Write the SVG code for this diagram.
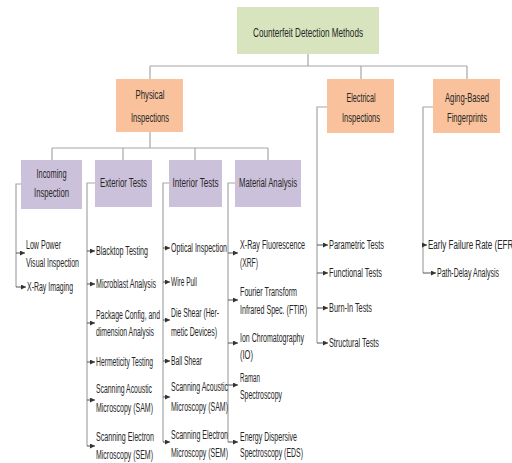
<svg xmlns="http://www.w3.org/2000/svg" width="512" height="463" viewBox="0 0 512 463">
<style>
text{font-family:"Liberation Sans Narrow","Liberation Sans",Arial,sans-serif;fill:#262626;font-size:12px}
.h{font-size:13px;text-anchor:middle}
.m{text-anchor:middle}
.root{fill:#D7E4BD}
.l2{fill:#F9C29C}
.l3{fill:#CCC1DA}
.c line,.c polyline{stroke:#A6A6A6;stroke-width:1.2;fill:none}
.c .a{stroke:#555;stroke-width:1;marker-end:url(#ah)}
</style>
<defs>
<marker id="ah" viewBox="0 0 6 6" refX="6" refY="3" markerWidth="5" markerHeight="5" markerUnits="userSpaceOnUse" orient="auto">
<path d="M0,0 L6,3 L0,6 z" fill="#333"/>
</marker>
</defs>
<rect width="512" height="463" fill="#fff"/>
<g class="c" id="connectors">
<line x1="308" y1="54" x2="308" y2="66"/>
<line x1="150" y1="66" x2="467" y2="66"/>
<line x1="150" y1="66" x2="150" y2="79"/>
<line x1="361" y1="66" x2="361" y2="79"/>
<line x1="467" y1="66" x2="467" y2="79"/>
<line x1="150" y1="132" x2="150" y2="148"/>
<line x1="52" y1="148" x2="268" y2="148"/>
<line x1="52" y1="148" x2="52" y2="160"/>
<line x1="123" y1="148" x2="123" y2="160"/>
<line x1="195" y1="148" x2="195" y2="160"/>
<line x1="268" y1="148" x2="268" y2="160"/>
<polyline points="21,184 16,184 16,287"/>
<polyline points="95,183 87,183 87,446"/>
<polyline points="169,183 163,183 163,442"/>
<polyline points="235,183 228,183 228,442"/>
<polyline points="327,107 317,107 317,343"/>
<polyline points="433,107 423,107 423,273"/>
<line class="a" x1="16" y1="253" x2="25" y2="253"/>
<line class="a" x1="16" y1="287" x2="26" y2="287"/>
<line class="a" x1="87" y1="251" x2="95" y2="251"/>
<line class="a" x1="87" y1="284" x2="95" y2="284"/>
<line class="a" x1="87" y1="323" x2="95" y2="323"/>
<line class="a" x1="87" y1="362" x2="95" y2="362"/>
<line class="a" x1="87" y1="400" x2="95" y2="400"/>
<line class="a" x1="87" y1="446" x2="95" y2="446"/>
<line class="a" x1="163" y1="248" x2="170" y2="248"/>
<line class="a" x1="163" y1="282" x2="170" y2="282"/>
<line class="a" x1="163" y1="320" x2="170" y2="320"/>
<line class="a" x1="163" y1="361" x2="170" y2="361"/>
<line class="a" x1="163" y1="397" x2="170" y2="397"/>
<line class="a" x1="163" y1="442" x2="170" y2="442"/>
<line class="a" x1="228" y1="253" x2="238" y2="253"/>
<line class="a" x1="228" y1="300" x2="238" y2="300"/>
<line class="a" x1="228" y1="343" x2="238" y2="343"/>
<line class="a" x1="228" y1="385" x2="238" y2="385"/>
<line class="a" x1="228" y1="442" x2="238" y2="442"/>
<line class="a" x1="317" y1="245" x2="328" y2="245"/>
<line class="a" x1="317" y1="273" x2="328" y2="273"/>
<line class="a" x1="317" y1="308" x2="328" y2="308"/>
<line class="a" x1="317" y1="343" x2="328" y2="343"/>
<line class="a" x1="423" y1="245" x2="427" y2="245"/>
<line class="a" x1="423" y1="273" x2="436" y2="273"/>
</g>
<g id="root"><rect class="root" x="237" y="7" width="142" height="47"/><text class="h" x="308" y="36.5" textLength="110" lengthAdjust="spacingAndGlyphs">Counterfeit Detection Methods</text></g>
<g id="physical"><rect class="l2" x="116" y="79" width="67" height="53"/><text class="h" x="150" y="98.5" textLength="29" lengthAdjust="spacingAndGlyphs">Physical</text><text class="h" x="150" y="121.5" textLength="38" lengthAdjust="spacingAndGlyphs">Inspections</text></g>
<g id="electrical"><rect class="l2" x="327" y="79" width="67" height="54"/><text class="h" x="361" y="101.5" textLength="29" lengthAdjust="spacingAndGlyphs">Electrical</text><text class="h" x="361" y="121.5" textLength="38" lengthAdjust="spacingAndGlyphs">Inspections</text></g>
<g id="aging"><rect class="l2" x="433" y="79" width="67" height="54"/><text class="h" x="467" y="101.5" textLength="44" lengthAdjust="spacingAndGlyphs">Aging-Based</text><text class="h" x="467" y="121.5" textLength="40" lengthAdjust="spacingAndGlyphs">Fingerprints</text></g>
<g id="incoming"><rect class="l3" x="21" y="160" width="61" height="49"/><text class="m" x="51.5" y="178" textLength="30" lengthAdjust="spacingAndGlyphs">Incoming</text><text class="m" x="51.5" y="197" textLength="35" lengthAdjust="spacingAndGlyphs">Inspection</text></g>
<g id="exterior"><rect class="l3" x="95" y="160" width="57" height="47"/><text class="m" x="123.5" y="187" textLength="47" lengthAdjust="spacingAndGlyphs">Exterior Tests</text></g>
<g id="interior"><rect class="l3" x="169" y="160" width="53" height="47"/><text class="m" x="195.5" y="187" textLength="46" lengthAdjust="spacingAndGlyphs">Interior Tests</text></g>
<g id="material"><rect class="l3" x="235" y="160" width="66" height="47"/><text class="m" x="268" y="187" textLength="58" lengthAdjust="spacingAndGlyphs">Material Analysis</text></g>
<g id="incoming-items">
<text x="26" y="249" textLength="35" lengthAdjust="spacingAndGlyphs">Low Power</text>
<text x="26" y="267" textLength="53" lengthAdjust="spacingAndGlyphs">Visual Inspection</text>
<text x="27" y="291" textLength="46" lengthAdjust="spacingAndGlyphs">X-Ray Imaging</text>
</g>
<g id="exterior-items">
<text x="96" y="255" textLength="52" lengthAdjust="spacingAndGlyphs">Blacktop Testing</text>
<text x="96" y="288" textLength="60" lengthAdjust="spacingAndGlyphs">Microblast Analysis</text>
<text x="96" y="319" textLength="64" lengthAdjust="spacingAndGlyphs">Package Config, and</text>
<text x="96" y="336" textLength="58" lengthAdjust="spacingAndGlyphs">dimension Analysis</text>
<text x="96" y="366" textLength="57" lengthAdjust="spacingAndGlyphs">Hermeticity Testing</text>
<text x="96" y="393" textLength="56" lengthAdjust="spacingAndGlyphs">Scanning Acoustic</text>
<text x="96" y="412" textLength="57" lengthAdjust="spacingAndGlyphs">Microscopy (SAM)</text>
<text x="96" y="441" textLength="58" lengthAdjust="spacingAndGlyphs">Scanning Electron</text>
<text x="96" y="459" textLength="57" lengthAdjust="spacingAndGlyphs">Microscopy (SEM)</text>
</g>
<g id="interior-items">
<text x="171" y="252" textLength="56" lengthAdjust="spacingAndGlyphs">Optical Inspection</text>
<text x="171" y="286" textLength="26" lengthAdjust="spacingAndGlyphs">Wire Pull</text>
<text x="171" y="317" textLength="48" lengthAdjust="spacingAndGlyphs">Die Shear (Her-</text>
<text x="171" y="336" textLength="46" lengthAdjust="spacingAndGlyphs">metic Devices)</text>
<text x="171" y="365" textLength="31" lengthAdjust="spacingAndGlyphs">Ball Shear</text>
<text x="171" y="391" textLength="57" lengthAdjust="spacingAndGlyphs">Scanning Acoustic</text>
<text x="171" y="411" textLength="57" lengthAdjust="spacingAndGlyphs">Microscopy (SAM)</text>
<text x="171" y="439" textLength="57" lengthAdjust="spacingAndGlyphs">Scanning Electron</text>
<text x="171" y="457" textLength="57" lengthAdjust="spacingAndGlyphs">Microscopy (SEM)</text>
</g>
<g id="material-items">
<text x="240" y="249" textLength="65" lengthAdjust="spacingAndGlyphs">X-Ray Fluorescence</text>
<text x="240" y="267" textLength="18" lengthAdjust="spacingAndGlyphs">(XRF)</text>
<text x="240" y="296" textLength="57" lengthAdjust="spacingAndGlyphs">Fourier Transform</text>
<text x="240" y="314" textLength="67" lengthAdjust="spacingAndGlyphs">Infrared Spec. (FTIR)</text>
<text x="240" y="342" textLength="64" lengthAdjust="spacingAndGlyphs">Ion Chromatography</text>
<text x="240" y="359" textLength="13" lengthAdjust="spacingAndGlyphs">(IO)</text>
<text x="240" y="382" textLength="20" lengthAdjust="spacingAndGlyphs">Raman</text>
<text x="240" y="399" textLength="42" lengthAdjust="spacingAndGlyphs">Spectroscopy</text>
<text x="240" y="441" textLength="57" lengthAdjust="spacingAndGlyphs">Energy Dispersive</text>
<text x="240" y="457" textLength="63" lengthAdjust="spacingAndGlyphs">Spectroscopy (EDS)</text>
</g>
<g id="electrical-items">
<text x="329" y="249" textLength="55" lengthAdjust="spacingAndGlyphs">Parametric Tests</text>
<text x="329" y="277" textLength="53" lengthAdjust="spacingAndGlyphs">Functional Tests</text>
<text x="329" y="312" textLength="43" lengthAdjust="spacingAndGlyphs">Burn-In Tests</text>
<text x="329" y="347" textLength="50" lengthAdjust="spacingAndGlyphs">Structural Tests</text>
</g>
<g id="aging-items">
<text x="428" y="249" textLength="88" lengthAdjust="spacingAndGlyphs">Early Failure Rate (EFR)</text>
<text x="437" y="277" textLength="62" lengthAdjust="spacingAndGlyphs">Path-Delay Analysis</text>
</g>
</svg>
